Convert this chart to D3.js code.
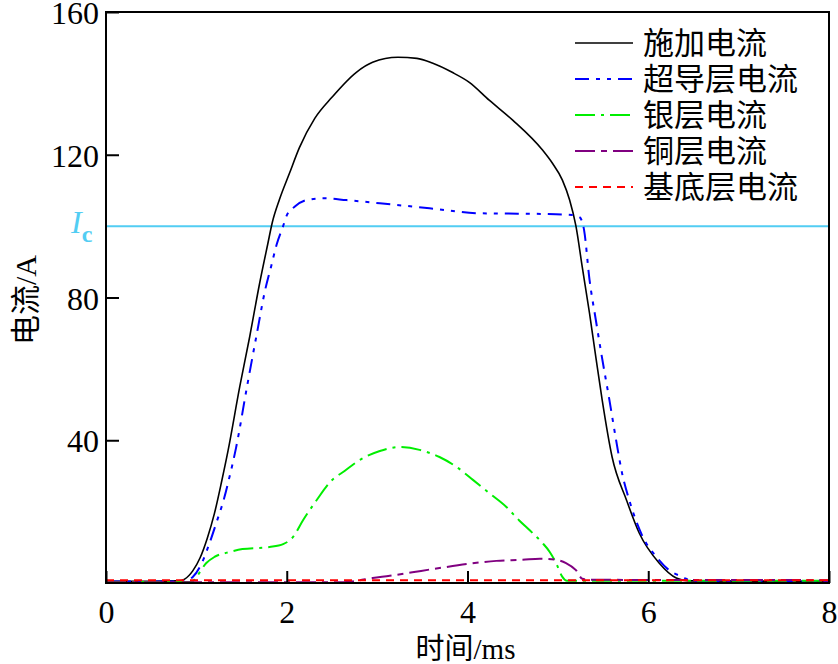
<!DOCTYPE html>
<html>
<head>
<meta charset="utf-8">
<script src="https://cdn.jsdelivr.net/npm/d3@7"></script>
<style>
    body { margin: 0; background: #fff; }
    svg { display: block; }
</style>
</head>
<body>
<svg id="canvas" width="838" height="664"></svg>
<script>
// [time (ms), current (A)]
const appliedCurrent = [
    [0, 0.5], [0.5, 0.5], [0.8, 0.6], [0.87, 1.1], [0.96, 3.4], [1.04, 7], [1.12, 12.5],
    [1.2, 19.5], [1.28, 28.5], [1.35, 37], [1.48, 55], [1.59, 69], [1.7, 84], [1.79, 95],
    [1.84, 101], [1.92, 107.5], [2.03, 114.8], [2.14, 122], [2.31, 130.2], [2.5, 136.1],
    [2.77, 143.1], [2.95, 145.9], [3.23, 147.3], [3.44, 147], [3.61, 145.7], [3.83, 143.1],
    [4.02, 140.3], [4.24, 135.3], [4.5, 129.7], [4.83, 121.3], [4.94, 117.6], [5.05, 112.9],
    [5.13, 107.3], [5.2, 100], [5.27, 88.5], [5.35, 75.6], [5.42, 63.3], [5.49, 51.3],
    [5.6, 35.3], [5.76, 23.2], [5.9, 14], [6.12, 5.6], [6.31, 1.4], [6.45, 0.6], [8, 0.5]
];
const scCurrent = [
    [0, 0.4], [0.85, 0.4], [0.96, 1.7], [1.06, 5.6], [1.15, 11.5], [1.22, 16.8], [1.31, 24],
    [1.35, 28], [1.44, 38], [1.56, 55], [1.67, 70], [1.76, 82], [1.83, 89], [1.89, 95],
    [1.96, 100], [2.0, 103], [2.09, 105.5], [2.22, 107.3], [2.4, 107.8], [2.66, 107.3],
    [3.03, 106.4], [3.58, 105], [4.13, 103.6], [4.87, 103.4], [5.16, 103.1], [5.24, 102.5],
    [5.29, 98.9], [5.35, 85], [5.42, 73.7], [5.48, 64.4], [5.57, 51.3], [5.65, 39.2],
    [5.71, 30.8], [5.79, 23.2], [5.94, 12.9], [6.09, 7.3], [6.23, 3.6], [6.38, 1.7],
    [6.5, 0.4], [8, 0.4]
];
const silverCurrent = [
    [0, 0.3], [0.95, 0.3], [1.0, 1.7], [1.11, 5.6], [1.2, 7.3], [1.37, 8.7], [1.51, 9.5],
    [1.81, 10.1], [1.96, 10.9], [2.07, 12.9], [2.18, 17.6], [2.33, 23.2], [2.48, 28.3],
    [2.64, 31.4], [2.81, 34.5], [3.03, 37], [3.25, 38.1], [3.47, 37.3], [3.69, 35.3],
    [3.88, 32.5], [4.06, 28.9], [4.24, 25.2], [4.43, 21.3], [4.57, 17.6], [4.72, 14],
    [4.83, 11.2], [4.91, 8.7], [4.98, 5.6], [5.05, 1.7], [5.1, 0.6], [8, 0.6]
];
const copperCurrent = [
    [0, 0.2], [2.6, 0.2], [2.77, 0.6], [2.95, 1.4], [3.14, 2], [3.39, 3], [3.69, 4.2],
    [3.99, 5.3], [4.32, 6.2], [4.61, 6.5], [4.8, 6.8], [4.98, 6.5], [5.09, 5.6],
    [5.2, 3.6], [5.27, 1.2], [5.35, 0.9], [8, 0.8]
];
const substrateCurrent = [[0, 0.8], [8, 0.8]];

const seriesNames = ["施加电流", "超导层电流", "银层电流", "铜层电流", "基底层电流"];
const criticalCurrent = 100;
const xTicks = [0, 2, 4, 6, 8];
const yTicks = [40, 80, 120, 160];

const series = [
    { name: seriesNames[0], data: appliedCurrent, color: "#000000", dash: null, width: 1.6 },
    { name: seriesNames[1], data: scCurrent, color: "#0000ff", dash: "14,7,4,7,4,7", width: 2 },
    { name: seriesNames[2], data: silverCurrent, color: "#00ee00", dash: "20,6,3,6", width: 2 },
    { name: seriesNames[3], data: copperCurrent, color: "#800080", dash: "20,6,6,6", width: 2 },
    { name: seriesNames[4], data: substrateCurrent, color: "#ff0000", dash: "8,6", width: 2 }
];

const margin = { top: 12, right: 9, bottom: 81, left: 106 };
const width = 838 - margin.left - margin.right;
const height = 664 - margin.top - margin.bottom;

const canvas = d3.select("#canvas");
const chart = canvas.append("g").attr("transform", `translate(${margin.left}, ${margin.top})`);

const xScale = d3.scaleLinear().domain([0, 8]).range([0, width]);
const yScale = d3.scaleLinear().domain([0, 160]).range([height, 0]);

const serif = "'Liberation Serif', 'Times New Roman', serif";
const cjk = "'Noto Sans CJK SC', sans-serif";

// critical current line
chart
    .append("line")
    .attr("x1", 0)
    .attr("x2", width)
    .attr("y1", yScale(criticalCurrent))
    .attr("y2", yScale(criticalCurrent))
    .attr("stroke", "#52cdf3")
    .attr("stroke-width", 2);

const icLabel = canvas
    .append("text")
    .attr("x", margin.left - 35)
    .attr("y", margin.top + yScale(criticalCurrent) + 7)
    .attr("fill", "#52cdf3")
    .style("font-family", serif);
icLabel.append("tspan").text("I").style("font-style", "italic").style("font-size", "32px");
icLabel
    .append("tspan")
    .text("c")
    .attr("dy", 9)
    .style("font-size", "24px")
    .style("font-weight", "bold");

// curves
const line = d3
    .line()
    .x((d) => xScale(d[0]))
    .y((d) => yScale(d[1]))
    .curve(d3.curveMonotoneX);

chart
    .selectAll(".curve")
    .data(series)
    .enter()
    .append("path")
    .attr("class", "curve")
    .attr("d", (item) => line(item.data))
    .attr("fill", "none")
    .attr("stroke", (item) => item.color)
    .attr("stroke-width", (item) => item.width)
    .attr("stroke-dasharray", (item) => item.dash);

// axes (ticks point inward)
const xAxis = d3.axisBottom(xScale).tickValues(xTicks).tickSizeInner(-12).tickSizeOuter(0).tickPadding(18);
const yAxis = d3.axisLeft(yScale).tickValues(yTicks).tickSizeInner(-13).tickSizeOuter(0).tickPadding(7);

const gx = chart.append("g").attr("transform", `translate(0, ${height})`).call(xAxis);
const gy = chart.append("g").call(yAxis);

[gx, gy].forEach((g) => {
    g.select(".domain").remove();
    g.selectAll(".tick line").attr("stroke", "#000").attr("stroke-width", 2);
    g.selectAll(".tick text")
        .style("font-family", serif)
        .style("font-size", "32px")
        .attr("fill", "#000");
});
gy.selectAll(".tick text").attr("dy", "0.36em");
gx.selectAll(".tick text").attr("dy", "0.7em");

// frame
chart
    .append("rect")
    .attr("width", width)
    .attr("height", height)
    .attr("fill", "none")
    .attr("stroke", "#000")
    .attr("stroke-width", 2);

// axis titles
canvas
    .append("text")
    .attr("x", margin.left + width / 2 - 2)
    .attr("y", 659)
    .attr("text-anchor", "middle")
    .style("font-size", "29px")
    .style("font-family", serif)
    .html("<tspan style=\"font-family:'Noto Sans CJK SC'\">时间</tspan>/ms");

canvas
    .append("text")
    .attr("transform", "translate(36, 300) rotate(-90)")
    .attr("text-anchor", "middle")
    .style("font-size", "30px")
    .style("font-family", serif)
    .html("<tspan style=\"font-family:'Noto Sans CJK SC'\">电流</tspan>/A");

// legend
const legend = canvas
    .selectAll(".legend")
    .data(series)
    .enter()
    .append("g")
    .attr("class", "legend")
    .attr("transform", (item, i) => `translate(575, ${43 + i * 36})`);

legend
    .append("line")
    .attr("x1", 0)
    .attr("x2", 58)
    .attr("stroke", (item) => item.color)
    .attr("stroke-width", (item) => item.width)
    .attr("stroke-dasharray", (item) => item.dash);

legend
    .append("text")
    .attr("x", 68)
    .attr("dy", "0.36em")
    .text((item) => item.name)
    .style("font-family", cjk)
    .style("font-size", "31px")
    .attr("fill", "#000");
</script>
</body>
</html>
